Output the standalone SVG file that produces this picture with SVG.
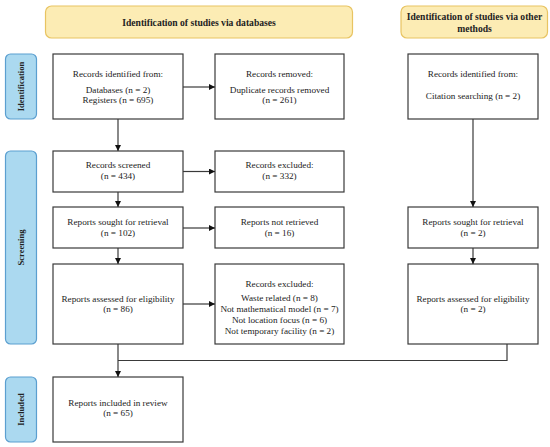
<svg xmlns="http://www.w3.org/2000/svg" width="550" height="447" viewBox="0 0 550 447">
<style>
.hdr{fill:#fcecb4;stroke:#e8c462;stroke-width:1.2}
.side{fill:#abd9f0;stroke:#5b9fd0;stroke-width:1.2}
.box{fill:#fff;stroke:#3a3a3a;stroke-width:1.2}
.t text{font-size:9.2px;fill:#222;text-anchor:middle}
.t .ht{font-weight:bold;font-size:9.6px}
.t .st{font-weight:bold;font-size:8.6px}
.ln{fill:none;stroke:#3a3a3a;stroke-width:1.2}
</style>
<defs>
<marker id="ah" viewBox="0 0 10 10" refX="10" refY="5" markerWidth="6" markerHeight="6" markerUnits="userSpaceOnUse" orient="auto">
<path d="M0,0 L10,5 L0,10 z" fill="#111"/>
</marker>
</defs>
<rect width="550" height="447" fill="#fff"/>
<g class="t" font-family="Liberation Serif, Times New Roman, DejaVu Serif, serif">
<g id="header-databases"><rect class="hdr" x="45.5" y="6" width="307" height="32" rx="6"/><text class="ht" x="199" y="26">Identification of studies via databases</text></g>
<g id="header-other"><rect class="hdr" x="401" y="6" width="146.5" height="32" rx="6"/><text class="ht" x="474.5" y="20">Identification of studies via other</text><text class="ht" x="474.5" y="31.5">methods</text></g>
<g id="label-identification"><rect class="side" x="5.5" y="54" width="31" height="65" rx="5"/><text class="st" transform="translate(24,86.5) rotate(-90)">Identification</text></g>
<g id="label-screening"><rect class="side" x="5.5" y="151" width="31" height="193" rx="5"/><text class="st" transform="translate(24,247.5) rotate(-90)">Screening</text></g>
<g id="label-included"><rect class="side" x="5.5" y="377" width="31" height="65" rx="5"/><text class="st" transform="translate(24,409.5) rotate(-90)">Included</text></g>
<g id="records-identified"><rect class="box" x="53" y="54" width="130" height="65"/><text x="118" y="77">Records identified from:</text><text x="118" y="92.5">Databases (n = 2)</text><text x="118" y="103">Registers (n = 695)</text></g>
<g id="records-removed"><rect class="box" x="215" y="54" width="129" height="65"/><text x="279.5" y="77">Records removed:</text><text x="279.5" y="92.5">Duplicate records removed</text><text x="279.5" y="102.5">(n = 261)</text></g>
<g id="other-identified"><rect class="box" x="408" y="54" width="130" height="65"/><text x="473" y="77">Records identified from:</text><text x="473" y="99">Citation searching (n = 2)</text></g>
<g id="records-screened"><rect class="box" x="53" y="151" width="130" height="41"/><text x="118" y="168">Records screened</text><text x="118" y="178.5">(n = 434)</text></g>
<g id="records-excluded"><rect class="box" x="215" y="151" width="129" height="41"/><text x="279.5" y="168">Records excluded:</text><text x="279.5" y="178.5">(n = 332)</text></g>
<g id="reports-sought"><rect class="box" x="53" y="207" width="130" height="41"/><text x="118" y="225">Reports sought for retrieval</text><text x="118" y="235.5">(n = 102)</text></g>
<g id="reports-not-retrieved"><rect class="box" x="215" y="207" width="129" height="41"/><text x="279.5" y="225">Reports not retrieved</text><text x="279.5" y="235.5">(n = 16)</text></g>
<g id="other-sought"><rect class="box" x="408" y="207" width="130" height="41"/><text x="473" y="225">Reports sought for retrieval</text><text x="473" y="235.5">(n = 2)</text></g>
<g id="reports-assessed"><rect class="box" x="53" y="264" width="130" height="80"/><text x="118" y="301.5">Reports assessed for eligibility</text><text x="118" y="312">(n = 86)</text></g>
<g id="records-excluded-2"><rect class="box" x="215" y="264" width="129" height="80"/><text x="279.5" y="287">Records excluded:</text><text x="279.5" y="300.5">Waste related (n = 8)</text><text x="279.5" y="311.5">Not mathematical model (n = 7)</text><text x="279.5" y="322.5">Not location focus (n = 6)</text><text x="279.5" y="333.5">Not temporary facility (n = 2)</text></g>
<g id="other-assessed"><rect class="box" x="408" y="264" width="130" height="80"/><text x="473" y="301.5">Reports assessed for eligibility</text><text x="473" y="312">(n = 2)</text></g>
<g id="reports-included"><rect class="box" x="53" y="377" width="130" height="65"/><text x="118" y="405.5">Reports included in review</text><text x="118" y="416">(n = 65)</text></g>
</g>
<g id="connectors">
<line class="ln" x1="183" y1="87" x2="215" y2="87" marker-end="url(#ah)"/>
<line class="ln" x1="118" y1="119" x2="118" y2="151" marker-end="url(#ah)"/>
<line class="ln" x1="183" y1="171.5" x2="215" y2="171.5" marker-end="url(#ah)"/>
<line class="ln" x1="118" y1="192" x2="118" y2="207" marker-end="url(#ah)"/>
<line class="ln" x1="183" y1="228" x2="215" y2="228" marker-end="url(#ah)"/>
<line class="ln" x1="118" y1="248" x2="118" y2="264" marker-end="url(#ah)"/>
<line class="ln" x1="183" y1="304" x2="215" y2="304" marker-end="url(#ah)"/>
<line class="ln" x1="118" y1="344" x2="118" y2="377" marker-end="url(#ah)"/>
<line class="ln" x1="473" y1="119" x2="473" y2="207" marker-end="url(#ah)"/>
<line class="ln" x1="473" y1="248" x2="473" y2="264" marker-end="url(#ah)"/>
<polyline class="ln" points="507,344 507,360.5 118,360.5"/>
</g>
</svg>
